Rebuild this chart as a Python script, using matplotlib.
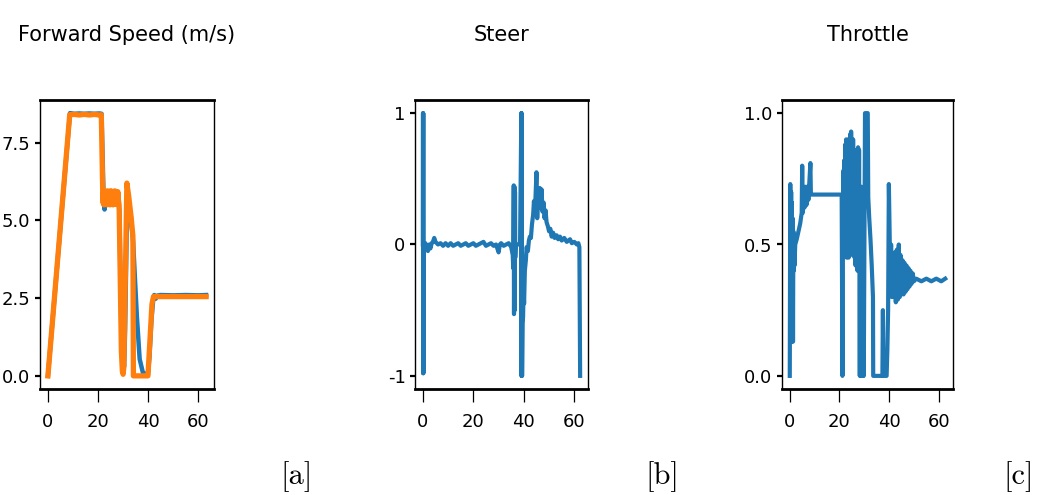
import matplotlib
matplotlib.use("Agg")
import matplotlib.pyplot as plt

# speed (m/s): measured (blue) and command (orange)
spd_t = [0.0, 8.8, 10.5, 12.5, 14.5, 16.5, 18.5, 20.5, 21.4, 22.2, 22.6, 23.0, 25.0, 28.0, 28.5,
         29.3, 30.0, 30.4, 30.8, 31.4, 32.0, 33.0, 34.0, 34.8, 35.5, 36.6, 37.9, 39.9, 40.5, 41.3,
         42.0, 42.4, 43.0, 43.5, 45.0, 50.0, 55.0, 60.0, 63.1]
spd = [0.0, 8.45, 8.43, 8.44, 8.43, 8.44, 8.43, 8.44, 8.43, 5.8, 5.35, 5.75, 5.7, 5.7, 5.3,
       1.5, 0.4, 0.3, 1.5, 4.5, 5.7, 5.2, 4.3, 3.0, 1.9, 0.54, 0.1, 0.05, 0.6, 1.8,
       2.45, 2.6, 2.48, 2.58, 2.6, 2.59, 2.6, 2.59, 2.6]

cmd_t = [0.0, 8.7, 10.5, 12.5, 14.5, 16.5, 18.5, 20.5, 21.3,
         21.9, 22.05, 22.2, 22.35, 22.5, 22.65, 22.8, 22.95, 23.1, 23.25, 23.4, 23.55, 23.7, 23.85,
         24.0, 24.15, 24.3, 24.45, 24.6, 24.75, 24.9, 25.05, 25.2, 25.35, 25.5, 25.65, 25.8, 25.95,
         26.1, 26.25, 26.4, 26.55, 26.7, 26.85, 27.0, 27.15, 27.3, 27.45, 27.6, 27.75, 27.9, 28.05,
         28.4, 29.3, 29.7, 30.0, 30.3, 31.5, 32.2, 33.2, 33.9,
         34.1, 39.9, 40.6, 41.5, 42.1, 45.0, 50.0, 55.0, 60.0, 63.1]
cmd = [0.0, 8.4, 8.41, 8.39, 8.41, 8.39, 8.41, 8.39, 8.4,
       5.75, 5.55, 5.92, 5.5, 5.95, 5.58, 5.9, 5.52, 5.93, 5.56, 5.92, 5.5, 5.95, 5.6,
       5.9, 5.52, 5.93, 5.55, 5.9, 5.5, 5.95, 5.58, 5.92, 5.52, 5.94, 5.55, 5.9, 5.5,
       5.93, 5.58, 5.91, 5.53, 5.95, 5.56, 5.9, 5.52, 5.93, 5.57, 5.9, 5.55, 5.92, 5.7,
       5.5, 0.8, 0.15, 0.05, 0.3, 6.2, 5.8, 5.1, 4.5,
       0.0, 0.0, 1.0, 2.3, 2.55, 2.55, 2.55, 2.55, 2.55, 2.55]

# steering command
steer_t = [0.0, 0.05, 0.1, 0.15, 0.2, 0.25, 1.0, 1.5, 2.0, 2.5, 3.0, 3.5, 4.0, 4.5, 5.0,
           6.0, 7.0, 8.0, 9.0, 10.0, 11.0, 12.0, 13.0, 14.0, 15.0, 16.0, 17.0, 18.0, 19.0, 20.0,
           21.0, 22.0, 23.0, 24.0, 25.0, 26.0, 27.0, 28.0, 29.0, 30.0, 30.5, 31.0, 32.0, 33.0, 34.0,
           35.0, 35.6, 35.8, 36.0, 36.1, 36.3, 36.4, 36.5, 36.6, 36.8, 37.5, 38.5, 39.0, 39.05, 39.1,
           39.15, 39.2, 39.3, 39.5, 39.7, 39.9, 40.1, 40.4, 40.8, 41.1, 41.6, 42.0, 42.4, 42.8, 43.2,
           43.7, 44.0, 44.3, 44.6, 45.0, 45.3, 45.6, 46.0, 46.3, 46.7, 47.0, 47.4, 47.8, 48.2, 48.6,
           49.0, 49.5, 50.0, 50.5, 51.0, 51.6, 52.2, 53.0, 53.6, 54.3, 55.0, 56.0, 57.0, 58.3, 59.0,
           60.0, 61.0, 61.6, 62.0, 62.3]
steer = [0.0, 1.0, -0.98, 1.0, -0.98, 0.0, 0.01, -0.02, -0.05, 0.0, -0.03, 0.01, 0.02, 0.05, 0.02,
         0.0, 0.01, -0.01, 0.01, -0.01, 0.01, -0.01, 0.0, 0.01, -0.01, 0.0, 0.01, -0.01, 0.0, 0.01,
         -0.01, 0.0, 0.01, 0.02, -0.01, 0.0, 0.01, -0.01, 0.0, -0.06, 0.0, 0.01, -0.01, 0.0, 0.01,
         -0.02, -0.08, -0.18, 0.45, -0.53, 0.44, -0.5, 0.4, -0.1, 0.0, 0.0, 0.0, 1.0, -1.0, 1.0,
         -1.0, 0.98, -1.0, -0.6, -0.55, -0.35, -0.45, -0.2, -0.12, -0.02, -0.05, 0.03, 0.06, 0.05, 0.15,
         0.23, 0.33, 0.25, 0.35, 0.55, 0.2, 0.38, 0.3, 0.43, 0.28, 0.42, 0.25, 0.32, 0.2, 0.26,
         0.17, 0.14, 0.1, 0.12, 0.06, 0.09, 0.05, 0.07, 0.04, 0.06, 0.03, 0.05, 0.02, 0.04, 0.01,
         0.02, 0.0, 0.01, -0.02, -1.0]

# throttle command
thr_t = [0.0, 0.2, 0.4, 0.55, 0.7, 0.85, 1.0, 1.15, 1.3, 1.45, 1.6, 1.75, 1.9, 2.2, 2.8,
         3.5, 4.2, 4.8, 5.0, 5.2, 5.5, 5.9, 6.3, 6.7, 7.1, 7.5, 7.9, 8.3, 8.5, 8.8,
         12.0, 16.0, 20.9, 21.2, 21.5, 21.7, 21.9, 22.1, 22.3, 22.5, 22.7, 22.9, 23.1, 23.3, 23.5,
         23.7, 23.9, 24.1, 24.3, 24.5, 24.7, 24.9, 25.1, 25.3, 25.5, 25.7, 25.9, 26.1, 26.3, 26.5,
         26.7, 26.9, 27.1, 27.3, 27.5, 27.7, 27.9, 28.2, 28.4, 28.6, 28.8, 29.0, 29.2, 29.4, 29.6,
         29.8, 30.0, 30.3, 31.4, 31.6, 32.0, 32.5, 33.0, 33.5, 33.6, 37.3, 37.5, 37.7, 39.0, 39.3,
         39.6, 39.9, 40.2, 40.5, 40.8, 41.1, 41.5, 41.9, 42.3, 42.7, 43.1, 43.5, 43.9, 44.3, 44.6,
         45.0, 45.4, 45.8, 46.2, 46.6, 47.0, 47.4, 47.8, 48.2, 48.6, 49.0, 49.5, 50.0, 50.9, 53.0,
         55.0, 57.0, 59.0, 61.0, 62.6]
thr = [0.0, 0.73, 0.15, 0.7, 0.13, 0.66, 0.14, 0.6, 0.13, 0.55, 0.4, 0.52, 0.42, 0.5, 0.52,
       0.55, 0.58, 0.62, 0.8, 0.62, 0.7, 0.64, 0.72, 0.65, 0.72, 0.67, 0.74, 0.81, 0.69, 0.69,
       0.69, 0.69, 0.69, 0.0, 0.78, 0.48, 0.82, 0.47, 0.88, 0.46, 0.9, 0.45, 0.84, 0.48, 0.9,
       0.45, 0.86, 0.47, 0.92, 0.46, 0.93, 0.5, 0.88, 0.47, 0.9, 0.5, 0.85, 0.45, 0.86, 0.42,
       0.84, 0.42, 0.86, 0.4, 0.87, 0.42, 0.86, 0.0, 0.7, 0.0, 0.72, 0.0, 0.68, 0.0, 0.7,
       0.0, 0.4, 1.0, 1.0, 0.68, 0.6, 0.52, 0.42, 0.3, 0.0, 0.0, 0.25, 0.0, 0.0, 0.1,
       0.25, 0.73, 0.55, 0.35, 0.5, 0.3, 0.46, 0.3, 0.47, 0.28, 0.48, 0.29, 0.5, 0.3, 0.46,
       0.31, 0.44, 0.31, 0.43, 0.32, 0.42, 0.33, 0.41, 0.34, 0.4, 0.35, 0.39, 0.36, 0.37, 0.36,
       0.37, 0.36, 0.37, 0.36, 0.37]

titles = ["Forward Speed (m/s)", "Steer", "Throttle"]
tags = ["[a]", "[b]", "[c]"]
tag_x = [297, 662, 1019]

plt.rcParams["font.family"] = "DejaVu Sans"
plt.rcParams["axes.unicode_minus"] = False

W, H = 1044, 495
fig = plt.figure(figsize=(W / 100, H / 100), dpi=100)
boxes = [(40, 214), (415, 588), (782, 953)]
top, bot = 100, 389
axes = []
for l, r in boxes:
    ax = fig.add_axes([l / W, 1 - bot / H, (r - l) / W, (bot - top) / H])
    axes.append(ax)

blue = "#1f77b4"
orange = "#ff7f0e"
axes[0].plot(spd_t, spd, color=blue, lw=3.2)
axes[0].plot(cmd_t, cmd, color=orange, lw=3.8)
axes[0].set_yticks([0.0, 2.5, 5.0, 7.5])
axes[1].plot(steer_t, steer, color=blue, lw=3.0)
axes[1].set_yticks([-1, 0, 1])
axes[2].plot(thr_t, thr, color=blue, lw=3.0)
axes[2].set_yticks([0.0, 0.5, 1.0])

for ax, (l, r), title, tx, tag in zip(axes, boxes, titles, tag_x, tags):
    ax.set_xticks([0, 20, 40, 60])
    ax.tick_params(axis="x", length=9, width=0.9, pad=8, labelsize=13)
    ax.tick_params(axis="y", length=3.3, width=1.6, pad=3.5, labelsize=13)
    for s in ["top", "bottom"]:
        ax.spines[s].set_linewidth(2.0)
    for s in ["left", "right"]:
        ax.spines[s].set_linewidth(1.0)
    fig.text((l + r) / 2 / W, 1 - 41 / H, title, ha="center", va="baseline", fontsize=15)
    fig.text(tx / W, 1 - 484 / H, tag, ha="center", va="baseline",
             fontsize=22, family="cmr10")

fig.savefig("out.png", dpi=100)
